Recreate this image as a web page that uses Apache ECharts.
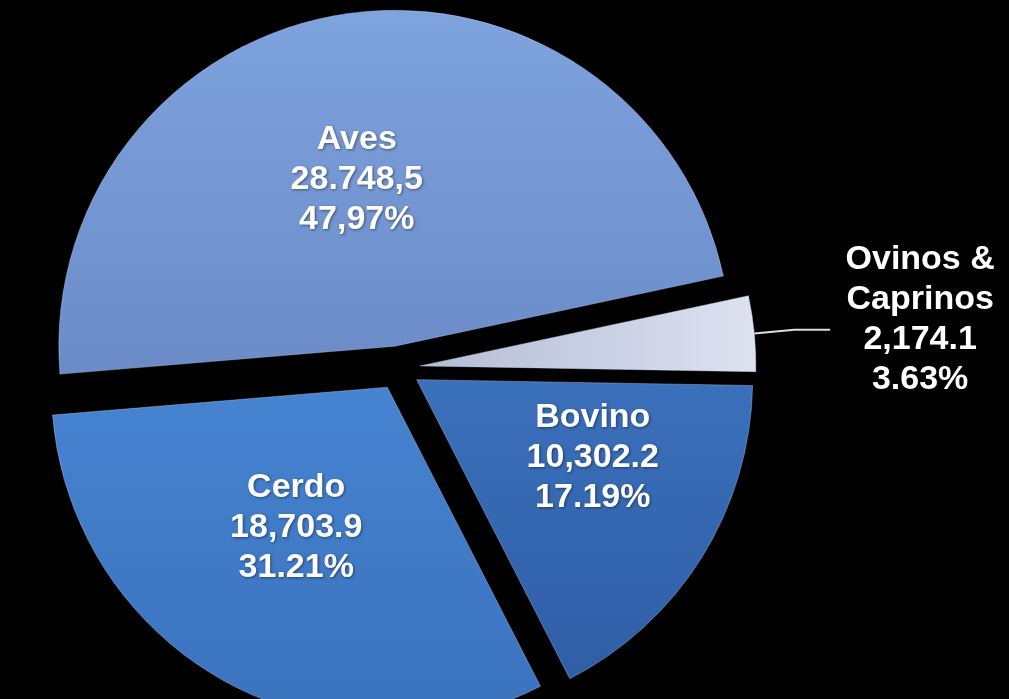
<!DOCTYPE html>
<html>
<head>
<meta charset="utf-8">
<script src="https://cdn.jsdelivr.net/npm/echarts@6/dist/echarts.min.js"></script>
<style>
html,body{margin:0;padding:0;background:#000;}
#c{width:1009px;height:699px;}
</style>
</head>
<body>
<div id="c"></div>
<script>
const categories = ["Bovino", "Cerdo", "Aves", "Ovinos &\nCaprinos"];
const values = [10302.2, 18703.9, 28748.5, 2174.1];
const valueLabels = ["10,302.2", "18,703.9", "28.748,5", "2,174.1"];
const pctLabels = ["17.19%", "31.21%", "47,97%", "3.63%"];

const grad = (a, b) => new echarts.graphic.LinearGradient(0, 0, 0, 1, [
  { offset: 0, color: a }, { offset: 1, color: b }
]);
const colors = [
  grad('#3B70BB', '#2F5EA6'),
  grad('#4683D0', '#3A72BE'),
  grad('#7FA3DE', '#6A8BC8'),
  new echarts.graphic.LinearGradient(0, 0, 1, 0, [
    { offset: 0, color: '#B4BCD6' }, { offset: 1, color: '#DDE2F0' }
  ])
];
// horizontal padding and vertical spacer (negative = spacer below, shifts text up)
const hPad = [[0, 0, 0, 62], [0, 16, 0, 0], [0, 26, 0, 0]];
const vSpace = [-24, -18, 6];

const textStyle = {
  color: '#fff', fontSize: 34, fontWeight: 'bold',
  fontFamily: 'Liberation Sans, Arial, sans-serif', lineHeight: 40,
  textShadowColor: 'rgba(0,0,0,0.45)', textShadowBlur: 3,
  textShadowOffsetX: 1, textShadowOffsetY: 1
};

const data = categories.map((name, i) => {
  const item = {
    name: name,
    value: values[i],
    selected: true,
    itemStyle: { color: colors[i] }
  };
  const lines = name.split('\n').concat([valueLabels[i], pctLabels[i]]);
  if (i === 3) {
    item.label = {
      position: 'outside',
      padding: [0, 0, 20, 0],
      formatter: () => lines.map(s => '{c|' + s + '}').join('\n'),
      rich: { c: Object.assign({ width: 170, align: 'center' }, textStyle) }
    };
    item.labelLine = { show: true, length: 40, length2: 36, lineStyle: { color: '#dcdcdc', width: 2 } };
  } else {
    const sp = vSpace[i];
    let parts = lines.map(s => '{t|' + s + '}');
    if (sp > 0) parts.unshift('{s| }');
    if (sp < 0) parts.push('{s| }');
    item.label = {
      position: 'inside',
      padding: hPad[i],
      formatter: () => parts.join('\n'),
      rich: {
        t: Object.assign({ align: 'center' }, textStyle),
        s: { fontSize: 4, lineHeight: Math.abs(sp), height: Math.abs(sp) }
      }
    };
  }
  return item;
});

const chart = echarts.init(document.getElementById('c'), null, { renderer: 'canvas' });
chart.setOption({
  backgroundColor: '#000',
  animation: false,
  series: [{
    type: 'pie',
    center: [398, 368],
    radius: 336,
    startAngle: -1,
    clockwise: true,
    selectedMode: 'multiple',
    selectedOffset: 22,
    avoidLabelOverlap: false,
    emphasis: { disabled: true },
    itemStyle: { borderColor: 'rgba(200,220,255,0.35)', borderWidth: 1 },
    label: Object.assign({ align: 'center' }, textStyle),
    labelLine: { show: false },
    data: data
  }]
});
</script>
</body>
</html>
